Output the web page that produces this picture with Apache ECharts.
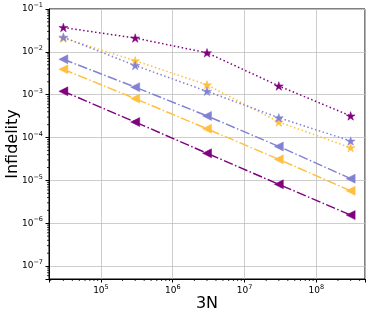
<!DOCTYPE html>
<html>
<head>
<meta charset="utf-8">
<script src="https://cdn.jsdelivr.net/npm/echarts@6/dist/echarts.min.js"></script>
<style>html,body{margin:0;padding:0;background:#fff}#c{width:374px;height:317px}</style>
</head>
<body>
<div id="c"></div>
<script>
// ---- data ----
const N3 = [3e4, 3e5, 3e6, 3e7, 3e8];
const purpleStar   = [0.037, 0.021, 0.0095, 0.0016, 0.00032];
const orangeStar   = [0.021, 0.0062, 0.0017, 0.00023, 0.000058];
const lavenderStar = [0.022, 0.0048, 0.0012, 0.00029, 0.000083];
const lavenderTri  = [0.0067, 0.0015, 0.00032, 0.000062, 0.000011];
const orangeTri    = [0.0039, 0.00081, 0.00016, 0.000031, 0.0000057];
const purpleTri    = [0.0012, 0.00023, 0.000043, 0.0000081, 0.00000155];
const xTickExps = [5, 6, 7, 8];
const yTickExps = [-7, -6, -5, -4, -3, -2, -1];
const xName = '3N';
const yName = 'Infidelity';

// ---- styling ----
const C_PURPLE = '#800080', C_ORANGE = '#FFBF3F', C_LAV = '#8282D4';
const XMIN = Math.pow(10, 4.277), XMAX = Math.pow(10, 8.677);
const YMIN = 5e-8, YMAX = 0.1;
const STAR = 'path://M0,-1 L0.2245,-0.309 L0.951,-0.309 L0.363,0.118 L0.588,0.809 L0,0.382 L-0.588,0.809 L-0.363,0.118 L-0.951,-0.309 L-0.2245,-0.309 Z';
const DOT = [1.5, 2.5];
const DASHDOT = [9.6, 2.4, 1.5, 2.4];

function pair(xs, ys) { return xs.map((x, i) => [x, ys[i]]); }
function sup(n) { return String(n).replace('-', '\u2212'); }
function fmt(v) {
  const e = Math.log10(v);
  if (Math.abs(e - Math.round(e)) > 1e-6) return '';
  return '{b|10}{s|' + sup(Math.round(e)) + '}';
}
function mkSeries(data, color, symbol, dash, rotate, size) {
  return {
    type: 'line', data: data, symbol: symbol, symbolSize: size, symbolRotate: rotate,
    symbolKeepAspect: true,
    itemStyle: { color: color, borderColor: color, borderWidth: 0.5 },
    lineStyle: { color: color, width: 1.5, type: dash },
    showSymbol: true, animation: false, z: 3
  };
}

// minor tick positions (axis decoration)
const xMinor = [], yMinor = [];
for (let k = 4; k <= 8; k++) for (let m = 2; m <= 9; m++) { const v = m * Math.pow(10, k); if (v > XMIN && v < XMAX) xMinor.push([v, YMIN]); }
for (let k = -8; k <= -2; k++) for (let m = 2; m <= 9; m++) { const v = m * Math.pow(10, k); if (v > YMIN && v < YMAX) yMinor.push([XMIN, v]); }

const rich = { b: { fontSize: 9, fontFamily: 'DejaVu Sans', color: '#000' }, s: { fontSize: 6.5, fontFamily: 'DejaVu Sans', color: '#000', padding: [0, 0, 7, 0] } };

const chart = echarts.init(document.getElementById('c'), null, { renderer: 'canvas' });
chart.setOption({
  animation: false,
  grid: { left: 49, top: 9, width: 316, height: 270, show: true, borderColor: '#000', borderWidth: 1, backgroundColor: 'transparent', containLabel: false, outerBoundsMode: 'none' },
  xAxis: {
    type: 'log', logBase: 10, min: XMIN, max: XMAX,
    name: xName, nameLocation: 'middle', nameGap: 17, nameMoveOverlap: false,
    nameTextStyle: { fontSize: 16, fontFamily: 'DejaVu Sans', color: '#000', verticalAlign: 'top' },
    axisLine: { lineStyle: { color: '#000', width: 1 } },
    axisTick: { show: true, inside: false, length: 3.5, lineStyle: { color: '#000' } },
    axisLabel: { formatter: fmt, rich: rich, margin: 5 },
    splitLine: { show: true, lineStyle: { color: '#c0c0c0', width: 0.8 } }
  },
  yAxis: {
    type: 'log', logBase: 10, min: YMIN, max: YMAX,
    name: yName, nameLocation: 'middle', nameGap: 28, nameMoveOverlap: false,
    nameTextStyle: { fontSize: 16, fontFamily: 'DejaVu Sans', color: '#000' },
    axisLine: { lineStyle: { color: '#000', width: 1 } },
    axisTick: { show: true, inside: false, length: 3.5, lineStyle: { color: '#000' } },
    axisLabel: { formatter: fmt, rich: rich, margin: 6 },
    splitLine: { show: true, lineStyle: { color: '#c0c0c0', width: 0.8 } }
  },
  series: [
    mkSeries(pair(N3, purpleStar), C_PURPLE, STAR, DOT, 0, 9),
    mkSeries(pair(N3, orangeStar), C_ORANGE, STAR, DOT, 0, 9),
    mkSeries(pair(N3, lavenderStar), C_LAV, STAR, DOT, 0, 9),
    mkSeries(pair(N3, lavenderTri), C_LAV, 'triangle', DASHDOT, 90, 9),
    mkSeries(pair(N3, orangeTri), C_ORANGE, 'triangle', DASHDOT, 90, 9),
    mkSeries(pair(N3, purpleTri), C_PURPLE, 'triangle', DASHDOT, 90, 9),
    {
      type: 'custom', data: xMinor, clip: false, silent: true, z: 5,
      renderItem: function (params, api) {
        const p = api.coord([api.value(0), api.value(1)]);
        return { type: 'line', shape: { x1: p[0], y1: p[1], x2: p[0], y2: p[1] + 2 }, style: { stroke: '#000', lineWidth: 0.8 } };
      }
    },
    {
      type: 'custom', data: yMinor, clip: false, silent: true, z: 5,
      renderItem: function (params, api) {
        const p = api.coord([api.value(0), api.value(1)]);
        return { type: 'line', shape: { x1: p[0], y1: p[1], x2: p[0] - 2, y2: p[1] }, style: { stroke: '#000', lineWidth: 0.8 } };
      }
    }
  ]
});
</script>
</body>
</html>
